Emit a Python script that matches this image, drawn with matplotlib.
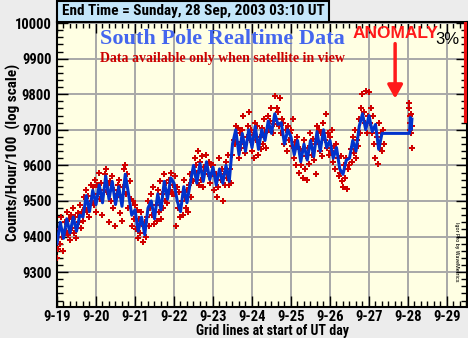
import matplotlib.pyplot as plt
import matplotlib.patches as patches
import numpy as np
from matplotlib.ticker import MultipleLocator, FixedLocator

narrow = ['Liberation Sans Narrow', 'DejaVu Sans Condensed', 'Roboto Condensed', 'Liberation Sans']
plt.rcParams['font.family'] = narrow
plt.rcParams['font.stretch'] = 'condensed'

# 2-hour averaged counts (blue trace), 12 values per UT day
mean_19 = [9380, 9440, 9395, 9450, 9410, 9455, 9415, 9460, 9455, 9515, 9470, 9530]
mean_20 = [9490, 9545, 9495, 9570, 9505, 9555, 9490, 9540, 9485, 9575, 9520, 9460]
mean_21 = [9475, 9415, 9455, 9405, 9480, 9500, 9450, 9520, 9475, 9555, 9505, 9565]
mean_22 = [9550, 9500, 9470, 9540, 9495, 9550, 9600, 9550, 9605, 9555, 9610, 9560]
mean_23 = [9595, 9545, 9590, 9550, 9600, 9555, 9660, 9700, 9630, 9690, 9640, 9700]
mean_24 = [9650, 9710, 9645, 9700, 9670, 9725, 9690, 9745, 9715, 9720, 9660, 9700]
mean_25 = [9680, 9630, 9670, 9610, 9660, 9615, 9670, 9625, 9695, 9640, 9700, 9650]
mean_26 = [9670, 9620, 9650, 9590, 9575, 9615, 9620, 9670, 9640, 9710, 9745, 9700]
mean_27 = [9740, 9695, 9715, 9645, 9690]
# after the data gap
mean_28_t = [28.04, 28.06, 28.08, 28.10]
mean_28 = [9690, 9735, 9700, 9730]

# raw counts (red points), 36 values per UT day
raw_19 = [9340, 9365, 9420, 9380, 9455, 9400, 9360, 9440, 9415, 9470, 9405, 9450,
          9390, 9460, 9425, 9480, 9410, 9455, 9395, 9465, 9440, 9490, 9425, 9470,
          9445, 9510, 9480, 9530, 9470, 9515, 9455, 9545, 9500, 9540, 9490, 9560]
raw_20 = [9470, 9545, 9520, 9580, 9505, 9550, 9460, 9530, 9575, 9590, 9525, 9545,
          9440, 9555, 9500, 9570, 9480, 9530, 9430, 9520, 9545, 9560, 9465, 9510,
          9445, 9540, 9590, 9600, 9520, 9575, 9480, 9555, 9505, 9430, 9500, 9450]
raw_21 = [9490, 9420, 9475, 9395, 9450, 9410, 9470, 9385, 9430, 9440, 9400, 9455,
          9500, 9430, 9480, 9520, 9460, 9540, 9435, 9490, 9445, 9530, 9470, 9555,
          9450, 9520, 9480, 9575, 9500, 9550, 9495, 9560, 9530, 9580, 9520, 9545]
raw_22 = [9520, 9570, 9430, 9540, 9480, 9525, 9455, 9500, 9460, 9560, 9510, 9480,
          9530, 9470, 9545, 9575, 9510, 9560, 9555, 9620, 9600, 9580, 9640, 9545,
          9610, 9560, 9625, 9540, 9595, 9585, 9630, 9575, 9610, 9550, 9600, 9580]
raw_23 = [9600, 9530, 9570, 9575, 9510, 9540, 9620, 9560, 9590, 9500, 9575, 9545,
          9610, 9565, 9630, 9545, 9590, 9550, 9630, 9670, 9660, 9710, 9665, 9705,
          9620, 9690, 9650, 9700, 9740, 9660, 9635, 9680, 9710, 9750, 9670, 9700]
raw_24 = [9640, 9685, 9620, 9720, 9670, 9710, 9630, 9680, 9645, 9705, 9660, 9730,
          9690, 9650, 9700, 9740, 9700, 9725, 9760, 9690, 9715, 9795, 9730, 9760,
          9750, 9710, 9790, 9690, 9730, 9720, 9660, 9700, 9640, 9710, 9670, 9690]
raw_25 = [9700, 9655, 9730, 9620, 9665, 9600, 9680, 9580, 9645, 9600, 9640, 9565,
          9670, 9590, 9625, 9560, 9650, 9605, 9690, 9630, 9675, 9615, 9660, 9575,
          9710, 9665, 9700, 9640, 9690, 9625, 9720, 9670, 9745, 9650, 9690, 9630]
raw_26 = [9680, 9640, 9700, 9610, 9655, 9590, 9660, 9620, 9570, 9580, 9625, 9555,
          9540, 9600, 9565, 9620, 9535, 9590, 9600, 9645, 9610, 9680, 9635, 9700,
          9620, 9670, 9655, 9730, 9690, 9760, 9800, 9750, 9720, 9810, 9690, 9740]
raw_27 = [9805, 9720, 9760, 9690, 9740, 9660, 9620, 9680, 9605, 9720, 9650, 9690,
          9640, 9700, 9660]
raw_28_t = [28.02, 28.03, 28.04, 28.05, 28.06, 28.07, 28.08, 28.09, 28.10]
raw_28 = [9775, 9760, 9740, 9700, 9720, 9745, 9690, 9650, 9710]

days = [19, 20, 21, 22, 23, 24, 25, 26, 27]
means = [mean_19, mean_20, mean_21, mean_22, mean_23, mean_24, mean_25, mean_26, mean_27]
raws = [raw_19, raw_20, raw_21, raw_22, raw_23, raw_24, raw_25, raw_26, raw_27]

t_mean = np.concatenate([d + np.arange(len(m)) / 12 for d, m in zip(days, means)] + [mean_28_t])
y_mean = np.concatenate(means + [mean_28])
t_raw = np.concatenate([d + np.arange(len(r)) / 36 for d, r in zip(days, raws)] + [raw_28_t])
y_raw = np.concatenate(raws + [raw_28])

tick_days = list(range(19, 30))
tick_labels = [f'9-{d}' for d in tick_days]
y_ticks = [9300, 9400, 9500, 9600, 9700, 9800, 9900, 10000]

fig = plt.figure(figsize=(4.68, 3.38), dpi=100, facecolor='#ECECEC')
ax = fig.add_axes([57 / 468, 31 / 338, 410 / 468, 285 / 338])
ax.set_facecolor('#FFFFE3')

ax.scatter(t_raw, y_raw, marker='P', s=14, color='#D00000', linewidths=0, zorder=3)
ax.plot(t_mean, y_mean, color='#0033CC', lw=2.2, zorder=4)

ax.set_xlim(19, 29.513)
ax.set_ylim(9202, 10003)
ax.xaxis.set_major_locator(FixedLocator(tick_days))
ax.set_xticklabels(tick_labels, fontsize=10.5, fontweight='bold')
ax.xaxis.set_minor_locator(MultipleLocator(1 / 6))
ax.yaxis.set_major_locator(FixedLocator(y_ticks))
ax.set_yticklabels([str(v) for v in y_ticks], fontsize=10.5, fontweight='bold')
ax.yaxis.set_minor_locator(MultipleLocator(20))
ax.tick_params(which='both', direction='in', top=True, right=True, color='black', width=1)
ax.tick_params(which='major', length=8, pad=4)
ax.tick_params(which='minor', length=4)
ax.tick_params(axis='x', which='major', pad=2)
ax.grid(True, which='major', color='#A8A8A8', lw=1.4, zorder=0)
ax.set_axisbelow(True)
for s in ax.spines.values():
    s.set_linewidth(1.5)

# 3% scale bar on the right edge
ax.plot([29.487, 29.487], [10003, 9718], color='#EE1111', lw=3, solid_capstyle='butt', zorder=5)
ax.text(29.33, 9955, '3%', fontsize=12, family='Liberation Sans', stretch='normal',
        ha='right', va='center')

ax.text(20.1, 9955, 'South Pole Realtime Data', family='Liberation Serif', stretch='normal',
        fontsize=16, fontweight='bold', color='#4466EE', va='center')
ax.text(20.1, 9900, 'Data available only when satellite in view', family='Liberation Serif',
        stretch='normal', fontsize=10, fontweight='bold', color='#CC0000', va='center')

ax.text(27.69, 9972, 'ANOMALY', family='Liberation Sans', stretch='normal', fontsize=12.5,
        fontweight='bold', color='#FF1A1A', ha='center', va='center')
ax.annotate('', xy=(27.67, 9780), xytext=(27.67, 9950),
            arrowprops=dict(arrowstyle='-|>,head_width=0.45,head_length=0.8',
                            color='#FF1A1A', lw=2.5))

ax.text(29.25, 9440, 'Igor Pro by WaveMetrics', fontsize=4.5, rotation=-90,
        ha='center', va='top')

# end-time banner above the plot
fig.patches.append(patches.Rectangle((57 / 468, 1 - 22 / 338), 272 / 468, 21 / 338,
                                     transform=fig.transFigure, facecolor='#C4E6FA',
                                     edgecolor='black', lw=1.5, zorder=5))
fig.text(193 / 468, 1 - 11.5 / 338, 'End Time = Sunday, 28 Sep, 2003 03:10 UT',
         fontsize=11, fontweight='bold', ha='center', va='center', zorder=6)

fig.text(13 / 468, 1 - 152 / 338, 'Counts/Hour/100  (log scale)', fontsize=11,
         fontweight='bold', rotation=90, ha='center', va='center')
fig.text(272 / 468, 1 - 331 / 338, 'Grid lines at start of UT day', fontsize=10,
         fontweight='bold', ha='center', va='center')

fig.savefig('out.png', dpi=100, facecolor=fig.get_facecolor())
